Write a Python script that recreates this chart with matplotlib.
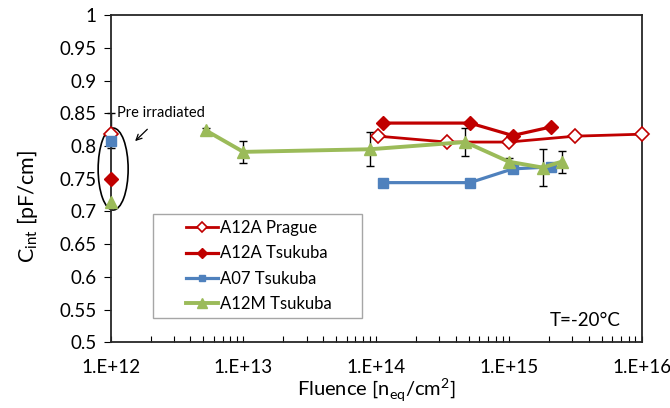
# -*- coding: utf-8 -*-

import matplotlib
matplotlib.use("Agg")
import matplotlib.pyplot as plt
import numpy as np
from matplotlib.patches import Ellipse, Rectangle
from matplotlib.ticker import FixedLocator, FuncFormatter, NullFormatter

# fluence values [n_eq/cm2] and Cint [pF/cm]
prague_x = [1.04e14, 3.4e14, 1.0e15, 3.15e15, 1.0e16]
prague_y = [0.815, 0.806, 0.806, 0.815, 0.818]

a12a_x = [1.12e14, 5.1e14, 1.07e15, 2.07e15]
a12a_y = [0.835, 0.835, 0.816, 0.829]

a07_x = [1.12e14, 5.1e14, 1.07e15, 2.07e15]
a07_y = [0.744, 0.744, 0.765, 0.768]

a12m_x = [5.2e12, 1.0e13, 9.0e13, 4.7e14, 1.0e15, 1.8e15, 2.5e15]
a12m_y = [0.824, 0.791, 0.795, 0.806, 0.776, 0.767, 0.776]
a12m_err = [0.003, 0.017, 0.026, 0.021, 0.005, 0.028, 0.017]

# pre irradiated samples (plotted at 1e12)
pre_x = 1e12
pre_prague = 0.818
pre_a12a = 0.750
pre_a07 = 0.808
pre_a07_err = [[0.011], [0.042]]
pre_a12m = 0.715

xticks = [1e12, 1e13, 1e14, 1e15, 1e16]
xtick_labels = ["1.E+12", "1.E+13", "1.E+14", "1.E+15", "1.E+16"]
yticks = np.arange(0.5, 1.0001, 0.05)

red = "#C00000"
blue = "#4F81BD"
green = "#9BBB59"

plt.rcParams["font.family"] = ["Lato", "DejaVu Sans"]

fig = plt.figure(figsize=(6.7, 4.08), dpi=100)
ax = fig.add_axes([0.165, 0.161, 0.7925, 0.802])

ax.plot(prague_x, prague_y, color=red, lw=2, marker="D", ms=7, mfc="white",
        mec=red, mew=1.2, label="A12A Prague", clip_on=False, zorder=3)
ax.plot(a12a_x, a12a_y, color=red, lw=2.3, marker="D", ms=7,
        label="A12A Tsukuba", zorder=3)
ax.plot(a07_x, a07_y, color=blue, lw=2.3, marker="s", ms=6.5,
        label="A07 Tsukuba", zorder=3)
ax.errorbar(a12m_x, a12m_y, yerr=a12m_err, fmt="none", ecolor="black",
            elinewidth=1, capsize=3, capthick=1, zorder=2)
ax.plot(a12m_x, a12m_y, color=green, lw=2.8, marker="^", ms=9,
        label="A12M Tsukuba", zorder=3)

# pre irradiated points on the axis
ax.errorbar([pre_x], [pre_a07], yerr=pre_a07_err, fmt="none", ecolor="black",
            elinewidth=1, capsize=3, capthick=1, clip_on=False, zorder=2)
ax.plot([pre_x], [pre_prague], ls="none", marker="D", ms=7, mfc="white",
        mec=red, mew=1.2, clip_on=False, zorder=3)
ax.plot([pre_x], [pre_a07], ls="none", color=blue, marker="s", ms=6.5,
        clip_on=False, zorder=4)
ax.plot([pre_x], [pre_a12a], ls="none", color=red, marker="D", ms=7,
        clip_on=False, zorder=4)
ax.plot([pre_x], [pre_a12m], ls="none", color=green, marker="^", ms=9,
        clip_on=False, zorder=4)

ax.set_xscale("log")
ax.set_xlim(1e12, 1e16)
ax.set_ylim(0.5, 1.0)

ax.xaxis.set_major_locator(FixedLocator(xticks))
ax.xaxis.set_major_formatter(FuncFormatter(lambda v, p: xtick_labels[xticks.index(v)] if v in xticks else ""))
ax.xaxis.set_minor_formatter(NullFormatter())
ax.set_yticks(yticks)
ax.set_yticklabels(["%g" % round(v, 2) for v in yticks])

ax.tick_params(axis="x", which="both", direction="in", length=4, width=0.8,
               labelsize=13.5, pad=12, top=False)
ax.tick_params(axis="y", which="major", direction="out", length=5, width=0.8,
               labelsize=13.5, pad=5, right=False)
ax.tick_params(axis="y", which="minor", left=False)

for s in ax.spines.values():
    s.set_linewidth(1.3)
    s.set_color("#262626")

ax.set_xlabel("Fluence [n$_{\\mathregular{eq}}$/cm$^{\\mathregular{2}}$]", fontsize=14.5)
ax.xaxis.set_label_coords(0.5, -0.105, transform=ax.transAxes)
ax.xaxis.label.set_va("top")
ax.set_ylabel("C$_{\\mathregular{int}}$ [pF/cm]", fontsize=15.5)
ax.yaxis.set_label_coords(-0.156, 0.416, transform=ax.transAxes)
ax.yaxis.label.set_va("center")

# legend box drawn separately, entries centred in it
ax.add_patch(Rectangle((0.08, 0.074), 0.393, 0.318, transform=ax.transAxes,
                       fill=False, edgecolor="#a6a6a6", lw=1, zorder=5))
leg = ax.legend(loc="center left", bbox_to_anchor=(0.127, 0.233), frameon=False,
                fontsize=12, handlelength=1.9, handletextpad=0.1,
                labelspacing=0.55, borderpad=0, markerscale=0.75)

ax.text(0.96, 0.067, "T=-20°C", transform=ax.transAxes, fontsize=13.5,
        ha="right", va="center")

# pre irradiated note
ax.add_patch(Ellipse((0.0049, 0.5295), 0.0565, 0.2505, transform=ax.transAxes,
                     fill=False, edgecolor="black", lw=1.2, clip_on=False))
ax.text(0.012, 0.7, "Pre irradiated", transform=ax.transAxes, fontsize=10.5,
        ha="left", va="center")
ax.annotate("", xy=(0.0425, 0.609), xytext=(0.073, 0.657),
            xycoords="axes fraction", textcoords="axes fraction",
            arrowprops=dict(arrowstyle="->", color="black", lw=0.9))

plt.savefig("out.png", dpi=100)
